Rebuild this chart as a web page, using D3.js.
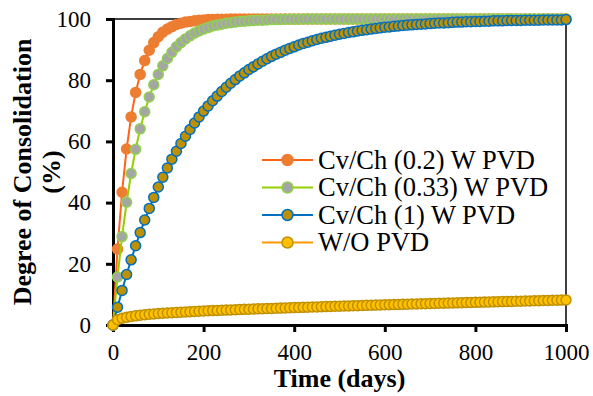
<!DOCTYPE html>
<html>
<head>
<meta charset="utf-8">
<script src="https://cdn.jsdelivr.net/npm/d3@7"></script>
<style>
  html, body { margin: 0; padding: 0; background: #fff; }
  svg text { font-family: "Liberation Serif", "Times New Roman", serif; fill: #000; }
</style>
</head>
<body>
<div id="chart"></div>
<script>
const days = [
  0, 10, 20, 30, 40, 50, 60, 70, 80, 90,
  100, 110, 120, 130, 140, 150, 160, 170, 180, 190,
  200, 210, 220, 230, 240, 250, 260, 270, 280, 290,
  300, 310, 320, 330, 340, 350, 360, 370, 380, 390,
  400, 410, 420, 430, 440, 450, 460, 470, 480, 490,
  500, 510, 520, 530, 540, 550, 560, 570, 580, 590,
  600, 610, 620, 630, 640, 650, 660, 670, 680, 690,
  700, 710, 720, 730, 740, 750, 760, 770, 780, 790,
  800, 810, 820, 830, 840, 850, 860, 870, 880, 890,
  900, 910, 920, 930, 940, 950, 960, 970, 980, 990, 1000
];

// Cv/Ch (0.2) W PVD
const u02 = [
  0, 24.8, 43.4, 57.5, 68.0, 76.0, 81.9, 86.4, 89.8, 92.3,
  94.2, 95.7, 96.7, 97.5, 98.2, 98.6, 99.0, 99.2, 99.4, 99.6,
  99.7, 99.8, 99.8, 99.9, 99.9, 99.9, 100, 100, 100, 100,
  100, 100, 100, 100, 100, 100, 100, 100, 100, 100,
  100, 100, 100, 100, 100, 100, 100, 100, 100, 100,
  100, 100, 100, 100, 100, 100, 100, 100, 100, 100,
  100, 100, 100, 100, 100, 100, 100, 100, 100, 100,
  100, 100, 100, 100, 100, 100, 100, 100, 100, 100,
  100, 100, 100, 100, 100, 100, 100, 100, 100, 100,
  100, 100, 100, 100, 100, 100, 100, 100, 100, 100, 100
];

// Cv/Ch (0.33) W PVD
const u033 = [
  0, 15.7, 28.9, 40.1, 49.5, 57.4, 64.1, 69.7, 74.5, 78.5,
  81.9, 84.7, 87.1, 89.1, 90.9, 92.3, 93.5, 94.5, 95.4, 96.1,
  96.7, 97.2, 97.7, 98.0, 98.3, 98.6, 98.8, 99.0, 99.2, 99.3,
  99.4, 99.5, 99.6, 99.6, 99.7, 99.8, 99.8, 99.8, 99.9, 99.9,
  99.9, 99.9, 100, 100, 100, 100, 100, 100, 100, 100,
  100, 100, 100, 100, 100, 100, 100, 100, 100, 100,
  100, 100, 100, 100, 100, 100, 100, 100, 100, 100,
  100, 100, 100, 100, 100, 100, 100, 100, 100, 100,
  100, 100, 100, 100, 100, 100, 100, 100, 100, 100,
  100, 100, 100, 100, 100, 100, 100, 100, 100, 100, 100
];

// Cv/Ch (1) W PVD
const u1 = [
  0, 5.8, 11.3, 16.5, 21.3, 25.9, 30.2, 34.3, 38.1, 41.7,
  45.1, 48.3, 51.3, 54.2, 56.8, 59.3, 61.7, 63.9, 66.0, 68.0,
  69.9, 71.6, 73.3, 74.8, 76.3, 77.7, 79.0, 80.2, 81.4, 82.4,
  83.5, 84.4, 85.3, 86.2, 87.0, 87.8, 88.5, 89.1, 89.8, 90.4,
  90.9, 91.5, 92.0, 92.4, 92.9, 93.3, 93.7, 94.0, 94.4, 94.7,
  95.0, 95.3, 95.6, 95.8, 96.1, 96.3, 96.5, 96.7, 96.9, 97.1,
  97.3, 97.4, 97.6, 97.7, 97.9, 98.0, 98.1, 98.2, 98.3, 98.4,
  98.5, 98.6, 98.7, 98.7, 98.8, 98.9, 99.0, 99.0, 99.1, 99.1,
  99.2, 99.2, 99.3, 99.3, 99.4, 99.4, 99.4, 99.5, 99.5, 99.5,
  99.5, 99.6, 99.6, 99.6, 99.6, 99.7, 99.7, 99.7, 99.7, 99.7, 99.8
];

// W/O PVD
const uNoPvd = [
  0, 1.7, 2.2, 2.5, 2.8, 3.0, 3.2, 3.35, 3.5, 3.6,
  3.75, 3.84, 3.93, 4.02, 4.1, 4.18, 4.26, 4.34, 4.42, 4.5,
  4.58, 4.64, 4.7, 4.76, 4.82, 4.88, 4.94, 5.0, 5.06, 5.12,
  5.18, 5.23, 5.28, 5.33, 5.38, 5.43, 5.48, 5.53, 5.58, 5.63,
  5.68, 5.73, 5.78, 5.82, 5.87, 5.92, 5.97, 6.01, 6.06, 6.11,
  6.16, 6.2, 6.25, 6.29, 6.33, 6.38, 6.42, 6.47, 6.51, 6.55,
  6.6, 6.64, 6.68, 6.72, 6.76, 6.8, 6.85, 6.89, 6.93, 6.97,
  7.01, 7.05, 7.09, 7.13, 7.17, 7.21, 7.25, 7.29, 7.33, 7.37,
  7.41, 7.45, 7.49, 7.53, 7.57, 7.61, 7.65, 7.69, 7.72, 7.76,
  7.8, 7.84, 7.88, 7.92, 7.96, 8.0, 8.03, 8.07, 8.11, 8.15, 8.19
];

const seriesNames = ['Cv/Ch (0.2) W PVD', 'Cv/Ch (0.33) W PVD', 'Cv/Ch (1) W PVD', 'W/O PVD'];
const xTicks = [0, 200, 400, 600, 800, 1000];
const yTicks = [0, 20, 40, 60, 80, 100];

const styles = [
  { line: '#FF6319', fill: '#ED7D31', stroke: '#ED7D31' },
  { line: '#92D000', fill: '#A5A5A5', stroke: '#92D050' },
  { line: '#0070C0', fill: '#BF9000', stroke: '#0070C0' },
  { line: '#FF9900', fill: '#FFC000', stroke: '#BF9000' }
];

const series = [u02, u033, u1, uNoPvd].map((vals, i) => ({
  name: seriesNames[i],
  style: styles[i],
  points: days.map((d, j) => ({ t: d, u: vals[j] }))
}));

const W = 593, H = 396;
const margin = { top: 19, right: 27, bottom: 71, left: 113 };
const width = W - margin.left - margin.right;
const height = H - margin.top - margin.bottom;

const svg = d3.select('#chart').append('svg')
  .attr('width', W)
  .attr('height', H);

const g = svg.append('g')
  .attr('transform', `translate(${margin.left},${margin.top})`);

const x = d3.scaleLinear().domain([0, 1000]).range([0, width]);
const y = d3.scaleLinear().domain([0, 100]).range([height, 0]);

// plot frame (thin top / right)
g.append('rect')
  .attr('x', 0).attr('y', 0)
  .attr('width', width).attr('height', height)
  .attr('fill', 'none')
  .attr('stroke', '#000')
  .attr('stroke-width', 1.5);

// Axes
const xAxis = g.append('g')
  .attr('transform', `translate(0,${height})`)
  .call(d3.axisBottom(x).tickValues(xTicks).tickSize(7).tickPadding(12).tickFormat(d3.format('d')));

const yAxis = g.append('g')
  .call(d3.axisLeft(y).tickValues(yTicks).tickSize(7).tickPadding(15).tickFormat(d3.format('d')));

[xAxis, yAxis].forEach(ax => {
  ax.select('.domain').attr('stroke', '#000').attr('stroke-width', 3);
  ax.selectAll('.tick line').attr('stroke', '#000').attr('stroke-width', 3);
  ax.selectAll('.tick text')
    .style('font-family', '"Liberation Serif", "Times New Roman", serif')
    .style('font-size', '23px')
    .attr('fill', '#000');
});
xAxis.selectAll('.tick text').attr('dy', '0.71em');

// Series
const line = d3.line().x(d => x(d.t)).y(d => y(d.u));

series.forEach(s => {
  const sg = g.append('g');
  sg.append('path')
    .datum(s.points)
    .attr('fill', 'none')
    .attr('stroke', s.style.line)
    .attr('stroke-width', 2)
    .attr('d', line);
  sg.selectAll('circle')
    .data(s.points)
    .enter()
    .append('circle')
    .attr('cx', d => x(d.t))
    .attr('cy', d => y(d.u))
    .attr('r', 5)
    .attr('fill', s.style.fill)
    .attr('stroke', s.style.stroke)
    .attr('stroke-width', 1.5);
});

// Axis titles
svg.append('text')
  .attr('x', margin.left + width / 2)
  .attr('y', 387)
  .attr('text-anchor', 'middle')
  .style('font-size', '26px')
  .style('font-weight', 'bold')
  .text('Time (days)');

const yTitle = svg.append('text')
  .attr('transform', `translate(31,${margin.top + height / 2}) rotate(-90)`)
  .attr('text-anchor', 'middle')
  .style('font-size', '26px')
  .style('font-weight', 'bold');
yTitle.append('tspan').attr('x', 0).attr('y', 0).text('Degree of Consolidation');
yTitle.append('tspan').attr('x', 0).attr('y', 29).text('(%)');

// Legend
const legend = svg.append('g').attr('transform', 'translate(262,160)');
series.forEach((s, i) => {
  const row = legend.append('g').attr('transform', `translate(0,${i * 27.5})`);
  row.append('line')
    .attr('x1', 0).attr('x2', 51)
    .attr('y1', 0).attr('y2', 0)
    .attr('stroke', s.style.line)
    .attr('stroke-width', 2);
  row.append('circle')
    .attr('cx', 25.5).attr('cy', 0)
    .attr('r', 5.5)
    .attr('fill', s.style.fill)
    .attr('stroke', s.style.stroke)
    .attr('stroke-width', 1.5);
  row.append('text')
    .attr('x', 56)
    .attr('y', 8.5)
    .style('font-size', '26.5px')
    .text(s.name);
});
</script>
</body>
</html>
